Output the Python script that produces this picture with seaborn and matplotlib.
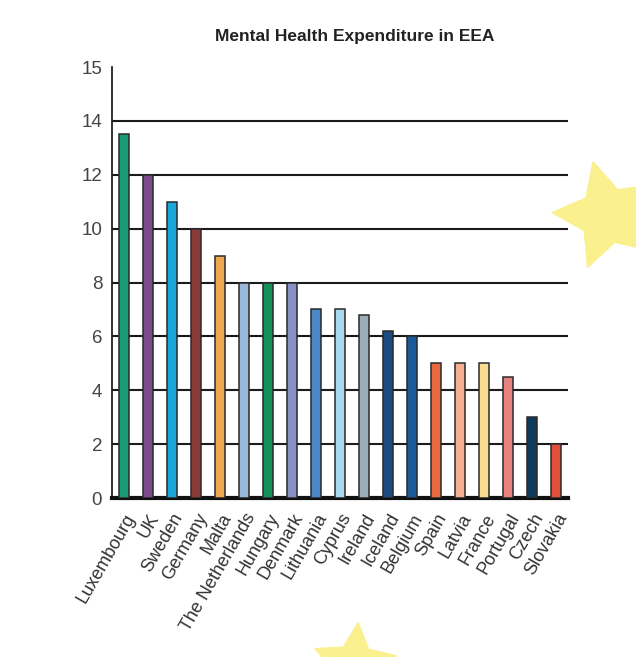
import numpy as np
import pandas as pd
import matplotlib
matplotlib.use("Agg")
import matplotlib.pyplot as plt
import seaborn as sns

countries = ["Luxembourg", "UK", "Sweden", "Germany", "Malta", "The Netherlands",
             "Hungary", "Denmark", "Lithuania", "Cyprus", "Ireland", "Iceland",
             "Belgium", "Spain", "Latvia", "France", "Portugal", "Czech", "Slovakia"]
expenditure = [13.5, 12, 11, 10, 9, 8, 8, 8, 7, 7, 6.8, 6.2, 6, 5, 5, 5, 4.5, 3, 2]
bar_colors = ["#1a9a73", "#7a4a8a", "#1aa6d8", "#8b3a3a", "#f0a850", "#9ab8dc",
              "#14915a", "#8890c8", "#4a88c8", "#a8d8ec", "#9aacb8", "#1a4a80",
              "#1a5a98", "#e86a40", "#f4b090", "#f8dc90", "#e88080", "#0e3a5a", "#e05038"]
ytick_pos = [0, 2, 4, 6, 8, 10, 12, 14, 16]
ytick_labels = ["0", "2", "4", "6", "8", "10", "12", "14", "15"]

df = pd.DataFrame({"country": countries, "value": expenditure})

sns.set_style("white")
plt.rcParams["font.family"] = ["Liberation Sans", "DejaVu Sans"]

fig = plt.figure(figsize=(6.36, 6.57), dpi=100)
ax = fig.add_axes([0.176, 0.242, 0.717, 0.656])

sns.barplot(data=df, x="country", y="value", hue="country", palette=bar_colors,
            legend=False, width=0.42, edgecolor="#2a2a2a", linewidth=1.1,
            saturation=1, ax=ax, zorder=3)

ax.set_xlim(-0.5, 18.5)
ax.set_ylim(0, 16)
ax.set_yticks(ytick_pos)
ax.set_yticklabels(ytick_labels, fontsize=13.5, color="#444444")
ax.tick_params(axis="y", length=5, width=1.3, color="#222222", pad=2)

# horizontal rules at 2..14 only
ax.yaxis.grid(True, color="#1a1a1a", linewidth=1.5, zorder=1)
for i, gl in enumerate(ax.get_ygridlines()):
    if i == 0 or i == len(ytick_pos) - 1:
        gl.set_visible(False)
ax.set_axisbelow(True)

ax.set_xticks(range(len(countries)))
ax.set_xticklabels(countries, rotation=60, ha="right", rotation_mode="anchor",
                   fontsize=13, color="#333333")
ax.tick_params(axis="x", which="major", length=0, pad=9)
ax.set_xticks(np.arange(-0.5, 19, 1), minor=True)
ax.tick_params(axis="x", which="minor", length=6, width=1.3, color="#222222", direction="out")

ax.set_xlabel("")
ax.set_ylabel("")
for s in ["top", "right"]:
    ax.spines[s].set_visible(False)
ax.spines["left"].set_color("#222222")
ax.spines["left"].set_linewidth(1.3)
ax.spines["bottom"].set_color("#111111")
ax.spines["bottom"].set_linewidth(3)

fig.text(0.558, 0.945, "Mental Health Expenditure in EEA", ha="center", va="center",
         fontsize=12.5, fontweight="bold", color="#222222")

# decorative stars
fig.lines.append(plt.Line2D([0.955], [0.672], marker=(5, 1, 15), markersize=80,
                            color="#fbf08e", transform=fig.transFigure, zorder=0))
fig.lines.append(plt.Line2D([0.556], [-0.012], marker=(5, 1, -5), markersize=62,
                            color="#fbf08e", transform=fig.transFigure, zorder=0))

fig.savefig("out.png", dpi=100)
